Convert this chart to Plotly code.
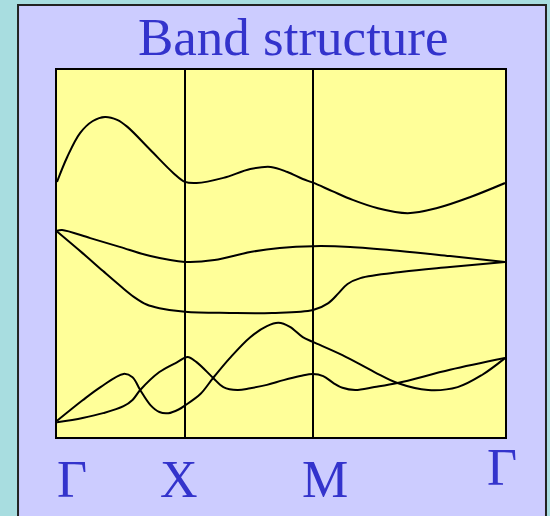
import plotly.graph_objects as go

# k-path positions of the symmetry points and their labels
sym_points = [0.0, 1.0, 2.0, 3.5]
sym_labels = ["Γ", "X", "M", "Γ"]

# band energies (arbitrary units)
band1_k = [0, 0.08, 0.18, 0.28, 0.375, 0.47, 0.55, 0.73, 0.91, 1.0, 1.09, 1.30, 1.51, 1.67, 1.80, 1.92, 2.0, 2.15, 2.31, 2.50, 2.74, 2.97, 3.23, 3.5]
band1_e = [6.95, 7.63, 8.28, 8.61, 8.72, 8.64, 8.45, 7.82, 7.19, 6.95, 6.92, 7.06, 7.30, 7.36, 7.22, 7.03, 6.93, 6.70, 6.46, 6.24, 6.10, 6.24, 6.54, 6.92]

band2_k = [0, 0.04, 0.26, 0.49, 0.73, 1.0, 1.23, 1.51, 1.74, 2.0, 2.29, 2.68, 3.07, 3.5]
band2_e = [5.62, 5.64, 5.42, 5.18, 4.93, 4.77, 4.82, 5.04, 5.15, 5.20, 5.18, 5.07, 4.93, 4.77]

band3_k = [0, 0.20, 0.36, 0.50, 0.60, 0.70, 0.80, 1.0, 1.35, 1.68, 2.0, 2.12, 2.20, 2.27, 2.37, 2.70, 3.07, 3.5]
band3_e = [5.60, 5.01, 4.52, 4.10, 3.82, 3.61, 3.51, 3.41, 3.38, 3.38, 3.46, 3.65, 3.92, 4.17, 4.33, 4.50, 4.63, 4.77]

band4_k = [0, 0.20, 0.34, 0.52, 0.59, 0.65, 0.73, 0.80, 0.87, 0.95, 1.0, 1.12, 1.22, 1.35, 1.51, 1.64, 1.73, 1.82, 1.92, 2.0, 2.23, 2.48, 2.66, 2.90, 3.13, 3.32, 3.5]
band4_e = [0.44, 1.00, 1.36, 1.72, 1.63, 1.28, 0.87, 0.68, 0.65, 0.75, 0.86, 1.17, 1.61, 2.15, 2.72, 3.02, 3.11, 3.00, 2.72, 2.59, 2.23, 1.77, 1.47, 1.28, 1.36, 1.69, 2.15]

band5_k = [0, 0.20, 0.36, 0.52, 0.59, 0.65, 0.80, 0.94, 1.02, 1.09, 1.22, 1.30, 1.41, 1.51, 1.64, 1.77, 1.90, 2.0, 2.08, 2.16, 2.23, 2.33, 2.48, 2.66, 3.07, 3.5]
band5_e = [0.40, 0.52, 0.65, 0.84, 1.01, 1.28, 1.77, 2.04, 2.18, 2.04, 1.61, 1.36, 1.28, 1.33, 1.42, 1.55, 1.66, 1.72, 1.66, 1.47, 1.34, 1.28, 1.36, 1.47, 1.83, 2.15]

bands = [
    (band1_k, band1_e),
    (band2_k, band2_e),
    (band3_k, band3_e),
    (band4_k, band4_e),
    (band5_k, band5_e),
]

TEXT_BLUE = "#3333cc"
SERIF = "Liberation Serif, Times New Roman, serif"

fig = go.Figure()

for k, e in bands:
    fig.add_trace(go.Scatter(
        x=k, y=e,
        mode="lines",
        line=dict(color="black", width=2, shape="spline", smoothing=1.0),
        hoverinfo="skip",
        showlegend=False,
    ))

# lavender panel behind everything, then the yellow plot area on top of it
fig.add_shape(type="rect", xref="paper", yref="paper",
              x0=-0.087, x1=1.0915, y0=-0.3, y1=1.177,
              fillcolor="#ccccff", line=dict(color="#222222", width=2),
              layer="below")
fig.add_shape(type="rect", xref="paper", yref="paper",
              x0=0, x1=1, y0=0, y1=1,
              fillcolor="#ffff99", line=dict(width=0),
              layer="below")

# title
fig.add_annotation(text="Band structure", xref="paper", yref="paper",
                   x=0.529, y=1.09, xanchor="center", yanchor="middle",
                   showarrow=False,
                   font=dict(family=SERIF, size=53, color=TEXT_BLUE))

# symmetry point labels (the last one sits a little higher, as in the original)
label_x = [0.12, 0.95, 2.09, 3.48]
label_y = [-0.115, -0.115, -0.115, -0.083]
for lx, ly, lab in zip(label_x, label_y, sym_labels):
    fig.add_annotation(text=lab, xref="x", yref="paper",
                       x=lx, y=ly, xanchor="center", yanchor="middle",
                       showarrow=False,
                       font=dict(family=SERIF, size=52, color=TEXT_BLUE))

fig.update_layout(
    width=550,
    height=516,
    margin=dict(l=57, r=45, t=70, b=79),
    paper_bgcolor="#a8dde0",
    plot_bgcolor="rgba(0,0,0,0)",
    xaxis=dict(
        range=[sym_points[0], sym_points[-1]],
        tickvals=sym_points[1:-1],
        showticklabels=False,
        ticks="",
        showgrid=True, gridcolor="black", gridwidth=2,
        zeroline=False,
        showline=True, linecolor="black", linewidth=2, mirror=True,
    ),
    yaxis=dict(
        range=[0, 10],
        showticklabels=False,
        ticks="",
        showgrid=False,
        zeroline=False,
        showline=True, linecolor="black", linewidth=2, mirror=True,
    ),
)

# drop the browser's default body margin so the figure sits at the page corner
fig.write_html("out.html", config={"displayModeBar": False},
               post_script="document.body.style.margin = '0';")
